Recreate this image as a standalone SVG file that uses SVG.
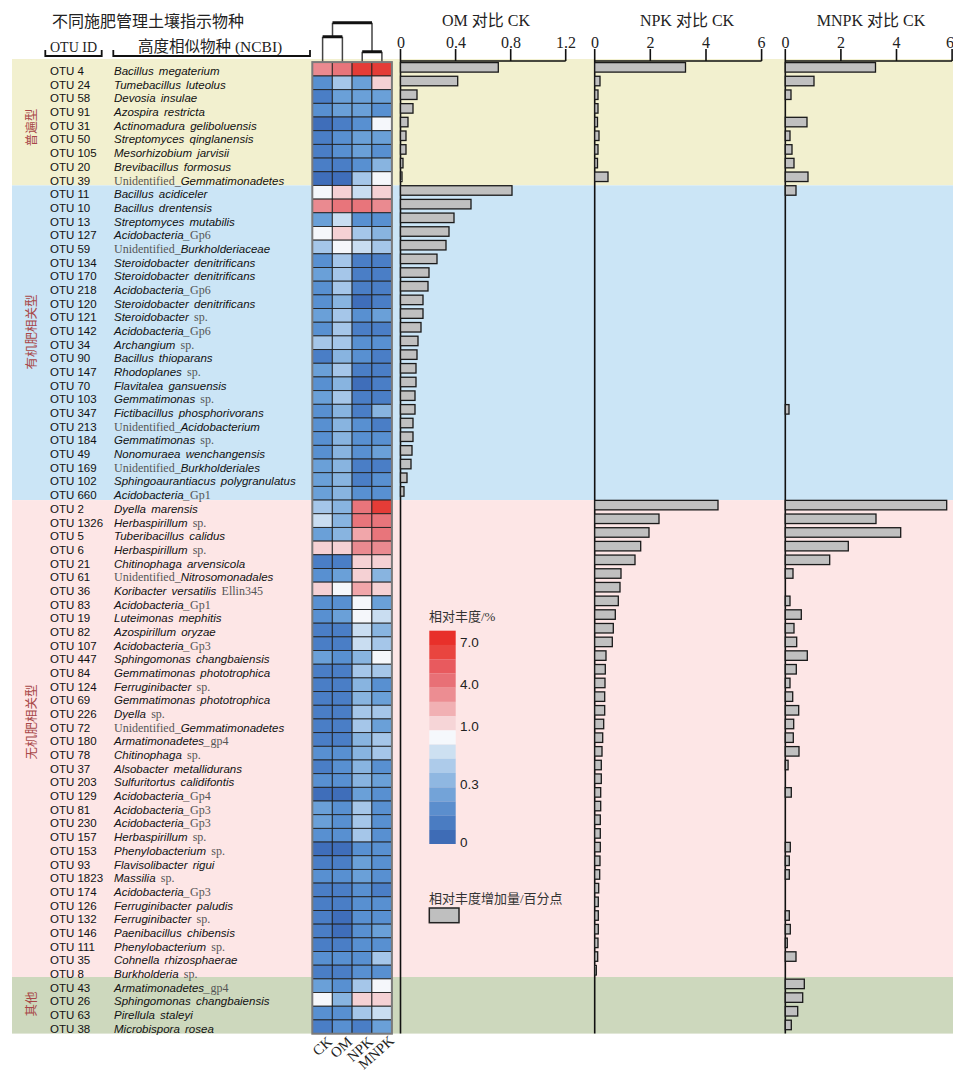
<svg xmlns="http://www.w3.org/2000/svg" width="953" height="1071" viewBox="0 0 953 1071">
<style>
.id{font-family:"Liberation Sans","Noto Sans",sans-serif;font-size:11.5px;fill:#111}
.sp{font-family:"Liberation Sans","Noto Sans",sans-serif;font-size:11.5px;font-style:italic;fill:#111;word-spacing:2px}
.sr{font-family:"Liberation Serif",serif;font-style:normal;fill:#555;font-size:12px;word-spacing:0}
.c{width:19.8px;height:13.68px;stroke:#222;stroke-width:0.9}
.b{y:0.3px;height:9.5px;fill:#c0c0c0;stroke:#1a1a1a;stroke-width:1.3}
.R3{fill:#e43c37}.R2{fill:#e8757b}.R1{fill:#ea8a90}.R0{fill:#f1a6aa}.P{fill:#f5d1d4}.W{fill:#f5f7fb}
.L1{fill:#c9ddf1}.L2{fill:#a5c6e9}.L3{fill:#88b4e0}.M{fill:#6aa0d8}.D1{fill:#5890d1}.D2{fill:#4a7ec6}.D3{fill:#3f6eba}
.hd{font-family:"Liberation Serif","Noto Sans CJK SC",serif;fill:#222}
.tk{font-family:"Liberation Serif",serif;font-size:16px;fill:#222;text-anchor:middle}
.ax{stroke:#111;stroke-width:1.6;fill:none}
.grp{font-family:"Noto Sans CJK SC",sans-serif;font-size:12.5px;fill:#a84848;text-anchor:middle}
.lg{font-family:"Liberation Sans",sans-serif;font-size:13.5px;fill:#222}
.lc{font-family:"Liberation Serif","Noto Sans CJK SC",serif;font-size:13px;fill:#333}
.col{font-family:"Liberation Serif",serif;font-size:14.5px;fill:#222;text-anchor:end}
</style>

<g id="bands">
<rect x="12" y="59" width="941" height="126.4" fill="#f2f0cf"/>
<rect x="12" y="185.4" width="941" height="314.7" fill="#cbe5f6"/>
<rect x="12" y="500.1" width="941" height="476.9" fill="#fde6e6"/>
<rect x="12" y="977" width="941" height="56.6" fill="#cdd8bd"/>
</g>

<g id="group-labels">
<text class="grp" transform="translate(36 127.5) rotate(-90)">普遍型</text>
<text class="grp" transform="translate(36 332) rotate(-90)">有机肥相关型</text>
<text class="grp" transform="translate(36 722) rotate(-90)">无机肥相关型</text>
<text class="grp" transform="translate(36 1004) rotate(-90)">其他</text>
</g>

<g id="header">
<text class="hd" x="52" y="27" font-size="16">不同施肥管理土壤指示物种</text>
<text class="hd" x="50" y="52" font-size="14">OTU ID</text>
<path d="M45.3 50V56H101.7V50" fill="none" stroke="#111" stroke-width="1.8"/>
<text class="hd" x="138" y="52" font-size="15.5">高度相似物种 (NCBI)</text>
<path d="M113.3 50V56H310V50" fill="none" stroke="#111" stroke-width="1.8"/>
</g>

<g id="dendrogram" fill="none" stroke="#111">
<path d="M322.6 36.7V62M342.4 36.7V62M362.2 51.7V62M381.9 51.7V62M332.5 22.7V36.7M372 22.7V51.7" stroke-width="1.5" stroke="#444"/>
<path d="M322.6 36.7H342.4M362.2 51.7H381.9M332.5 22.7H372" stroke-width="3"/>
</g>

<g id="axes">
<text class="hd" x="486" y="26" font-size="16" text-anchor="middle">OM 对比 CK</text>
<text class="hd" x="687" y="26" font-size="16" text-anchor="middle">NPK 对比 CK</text>
<text class="hd" x="871" y="26" font-size="16" text-anchor="middle">MNPK 对比 CK</text>
<text class="tk" x="401" y="48">0</text><text class="tk" x="456" y="48">0.4</text><text class="tk" x="511" y="48">0.8</text><text class="tk" x="566" y="48">1.2</text>
<text class="tk" x="595" y="48">0</text><text class="tk" x="650.5" y="48">2</text><text class="tk" x="706" y="48">4</text><text class="tk" x="761.6" y="48">6</text>
<text class="tk" x="785.5" y="48">0</text><text class="tk" x="841" y="48">2</text><text class="tk" x="896.5" y="48">4</text><text class="tk" x="950" y="48">6</text>
<path class="ax" d="M400.5 49V1033.6M400.5 61H565.7M455.6 49V61M510.7 49V61M565.7 49V61"/>
<path class="ax" d="M594.7 49V1033.6M594.7 61H761.6M650.3 49V61M706 49V61M761.6 49V61"/>
<path class="ax" d="M785.3 49V1033.6M785.3 61H952.1M840.9 49V61M896.5 49V61M952.1 49V61"/>
</g>

<g id="rows">
<g id="otu4" transform="translate(0 62.3)"><text class="id" x="50" y="12.8">OTU 4</text><text class="sp" x="114" y="12.8">Bacillus megaterium</text><rect class="c R1" x="312.5"/><rect class="c R2" x="332.3"/><rect class="c R3" x="352.1"/><rect class="c R3" x="371.9"/><rect class="b" x="400.5" width="97.8"/><rect class="b" x="594.7" width="90.8"/><rect class="b" x="785.3" width="90.2"/></g>
<g id="otu24" transform="translate(0 75.98)"><text class="id" x="50" y="12.8">OTU 24</text><text class="sp" x="114" y="12.8">Tumebacillus luteolus</text><rect class="c D1" x="312.5"/><rect class="c L2" x="332.3"/><rect class="c M" x="352.1"/><rect class="c P" x="371.9"/><rect class="b" x="400.5" width="57.2"/><rect class="b" x="594.7" width="5.3"/><rect class="b" x="785.3" width="28.7"/></g>
<g id="otu58" transform="translate(0 89.66)"><text class="id" x="50" y="12.8">OTU 58</text><text class="sp" x="114" y="12.8">Devosia insulae</text><rect class="c D2" x="312.5"/><rect class="c M" x="332.3"/><rect class="c M" x="352.1"/><rect class="c M" x="371.9"/><rect class="b" x="400.5" width="16.5"/><rect class="b" x="594.7" width="3.3"/><rect class="b" x="785.3" width="5.7"/></g>
<g id="otu91" transform="translate(0 103.34)"><text class="id" x="50" y="12.8">OTU 91</text><text class="sp" x="114" y="12.8">Azospira restricta</text><rect class="c D1" x="312.5"/><rect class="c M" x="332.3"/><rect class="c M" x="352.1"/><rect class="c D1" x="371.9"/><rect class="b" x="400.5" width="12.5"/><rect class="b" x="594.7" width="3.3"/></g>
<g id="otu31" transform="translate(0 117.02)"><text class="id" x="50" y="12.8">OTU 31</text><text class="sp" x="114" y="12.8">Actinomadura geliboluensis</text><rect class="c D3" x="312.5"/><rect class="c D2" x="332.3"/><rect class="c D1" x="352.1"/><rect class="c W" x="371.9"/><rect class="b" x="400.5" width="7.5"/><rect class="b" x="594.7" width="2.8"/><rect class="b" x="785.3" width="21.7"/></g>
<g id="otu50" transform="translate(0 130.7)"><text class="id" x="50" y="12.8">OTU 50</text><text class="sp" x="114" y="12.8">Streptomyces qinglanensis</text><rect class="c D2" x="312.5"/><rect class="c D1" x="332.3"/><rect class="c M" x="352.1"/><rect class="c M" x="371.9"/><rect class="b" x="400.5" width="5.5"/><rect class="b" x="594.7" width="4.3"/><rect class="b" x="785.3" width="4.7"/></g>
<g id="otu105" transform="translate(0 144.38)"><text class="id" x="50" y="12.8">OTU 105</text><text class="sp" x="114" y="12.8">Mesorhizobium jarvisii</text><rect class="c D2" x="312.5"/><rect class="c D1" x="332.3"/><rect class="c M" x="352.1"/><rect class="c D1" x="371.9"/><rect class="b" x="400.5" width="5.5"/><rect class="b" x="594.7" width="3.3"/><rect class="b" x="785.3" width="6.7"/></g>
<g id="otu20" transform="translate(0 158.06)"><text class="id" x="50" y="12.8">OTU 20</text><text class="sp" x="114" y="12.8">Brevibacillus formosus</text><rect class="c D2" x="312.5"/><rect class="c D2" x="332.3"/><rect class="c D1" x="352.1"/><rect class="c L3" x="371.9"/><rect class="b" x="400.5" width="2.5"/><rect class="b" x="594.7" width="2.8"/><rect class="b" x="785.3" width="8.7"/></g>
<g id="otu39" transform="translate(0 171.74)"><text class="id" x="50" y="12.8">OTU 39</text><text class="sp" x="114" y="12.8"><tspan class="sr">Unidentified_</tspan>Gemmatimonadetes</text><rect class="c D3" x="312.5"/><rect class="c D3" x="332.3"/><rect class="c L2" x="352.1"/><rect class="c W" x="371.9"/><rect class="b" x="400.5" width="1.5"/><rect class="b" x="594.7" width="13.3"/><rect class="b" x="785.3" width="22.7"/></g>

<g id="otu11" transform="translate(0 185.42)"><text class="id" x="50" y="12.8">OTU 11</text><text class="sp" x="114" y="12.8">Bacillus acidiceler</text><rect class="c W" x="312.5"/><rect class="c P" x="332.3"/><rect class="c L1" x="352.1"/><rect class="c P" x="371.9"/><rect class="b" x="400.5" width="111.5"/><rect class="b" x="785.3" width="10.7"/></g>
<g id="otu10" transform="translate(0 199.1)"><text class="id" x="50" y="12.8">OTU 10</text><text class="sp" x="114" y="12.8">Bacillus drentensis</text><rect class="c R1" x="312.5"/><rect class="c R2" x="332.3"/><rect class="c R2" x="352.1"/><rect class="c R1" x="371.9"/><rect class="b" x="400.5" width="70.5"/></g>
<g id="otu13" transform="translate(0 212.78)"><text class="id" x="50" y="12.8">OTU 13</text><text class="sp" x="114" y="12.8">Streptomyces mutabilis</text><rect class="c M" x="312.5"/><rect class="c L1" x="332.3"/><rect class="c D1" x="352.1"/><rect class="c D1" x="371.9"/><rect class="b" x="400.5" width="53.5"/></g>
<g id="otu127" transform="translate(0 226.46)"><text class="id" x="50" y="12.8">OTU 127</text><text class="sp" x="114" y="12.8">Acidobacteria_<tspan class="sr">Gp6</tspan></text><rect class="c W" x="312.5"/><rect class="c P" x="332.3"/><rect class="c L2" x="352.1"/><rect class="c L3" x="371.9"/><rect class="b" x="400.5" width="48.5"/></g>
<g id="otu59" transform="translate(0 240.14)"><text class="id" x="50" y="12.8">OTU 59</text><text class="sp" x="114" y="12.8"><tspan class="sr">Unidentified_</tspan>Burkholderiaceae</text><rect class="c L2" x="312.5"/><rect class="c W" x="332.3"/><rect class="c L1" x="352.1"/><rect class="c L2" x="371.9"/><rect class="b" x="400.5" width="45.5"/></g>
<g id="otu134" transform="translate(0 253.82)"><text class="id" x="50" y="12.8">OTU 134</text><text class="sp" x="114" y="12.8">Steroidobacter denitrificans</text><rect class="c D1" x="312.5"/><rect class="c L2" x="332.3"/><rect class="c D2" x="352.1"/><rect class="c D2" x="371.9"/><rect class="b" x="400.5" width="36.5"/></g>
<g id="otu170" transform="translate(0 267.5)"><text class="id" x="50" y="12.8">OTU 170</text><text class="sp" x="114" y="12.8">Steroidobacter denitrificans</text><rect class="c M" x="312.5"/><rect class="c L2" x="332.3"/><rect class="c D2" x="352.1"/><rect class="c D2" x="371.9"/><rect class="b" x="400.5" width="28.5"/></g>
<g id="otu218" transform="translate(0 281.18)"><text class="id" x="50" y="12.8">OTU 218</text><text class="sp" x="114" y="12.8">Acidobacteria_<tspan class="sr">Gp6</tspan></text><rect class="c D1" x="312.5"/><rect class="c L2" x="332.3"/><rect class="c D2" x="352.1"/><rect class="c D2" x="371.9"/><rect class="b" x="400.5" width="27.5"/></g>
<g id="otu120" transform="translate(0 294.86)"><text class="id" x="50" y="12.8">OTU 120</text><text class="sp" x="114" y="12.8">Steroidobacter denitrificans</text><rect class="c D1" x="312.5"/><rect class="c L3" x="332.3"/><rect class="c D3" x="352.1"/><rect class="c D2" x="371.9"/><rect class="b" x="400.5" width="22.5"/></g>
<g id="otu121" transform="translate(0 308.54)"><text class="id" x="50" y="12.8">OTU 121</text><text class="sp" x="114" y="12.8">Steroidobacter <tspan class="sr">sp.</tspan></text><rect class="c M" x="312.5"/><rect class="c L2" x="332.3"/><rect class="c D1" x="352.1"/><rect class="c M" x="371.9"/><rect class="b" x="400.5" width="22.5"/></g>
<g id="otu142" transform="translate(0 322.22)"><text class="id" x="50" y="12.8">OTU 142</text><text class="sp" x="114" y="12.8">Acidobacteria_<tspan class="sr">Gp6</tspan></text><rect class="c D1" x="312.5"/><rect class="c L2" x="332.3"/><rect class="c D2" x="352.1"/><rect class="c D2" x="371.9"/><rect class="b" x="400.5" width="20.5"/></g>
<g id="otu34" transform="translate(0 335.9)"><text class="id" x="50" y="12.8">OTU 34</text><text class="sp" x="114" y="12.8">Archangium <tspan class="sr">sp.</tspan></text><rect class="c L2" x="312.5"/><rect class="c L2" x="332.3"/><rect class="c D1" x="352.1"/><rect class="c D1" x="371.9"/><rect class="b" x="400.5" width="17.5"/></g>
<g id="otu90" transform="translate(0 349.58)"><text class="id" x="50" y="12.8">OTU 90</text><text class="sp" x="114" y="12.8">Bacillus thioparans</text><rect class="c D2" x="312.5"/><rect class="c L3" x="332.3"/><rect class="c D1" x="352.1"/><rect class="c D2" x="371.9"/><rect class="b" x="400.5" width="16.5"/></g>
<g id="otu147" transform="translate(0 363.26)"><text class="id" x="50" y="12.8">OTU 147</text><text class="sp" x="114" y="12.8">Rhodoplanes <tspan class="sr">sp.</tspan></text><rect class="c M" x="312.5"/><rect class="c L2" x="332.3"/><rect class="c D2" x="352.1"/><rect class="c D2" x="371.9"/><rect class="b" x="400.5" width="15.5"/></g>
<g id="otu70" transform="translate(0 376.94)"><text class="id" x="50" y="12.8">OTU 70</text><text class="sp" x="114" y="12.8">Flavitalea gansuensis</text><rect class="c D1" x="312.5"/><rect class="c L3" x="332.3"/><rect class="c D3" x="352.1"/><rect class="c D2" x="371.9"/><rect class="b" x="400.5" width="15.5"/></g>
<g id="otu103" transform="translate(0 390.62)"><text class="id" x="50" y="12.8">OTU 103</text><text class="sp" x="114" y="12.8">Gemmatimonas <tspan class="sr">sp.</tspan></text><rect class="c M" x="312.5"/><rect class="c L2" x="332.3"/><rect class="c D2" x="352.1"/><rect class="c D2" x="371.9"/><rect class="b" x="400.5" width="14.5"/></g>
<g id="otu347" transform="translate(0 404.3)"><text class="id" x="50" y="12.8">OTU 347</text><text class="sp" x="114" y="12.8">Fictibacillus phosphorivorans</text><rect class="c D1" x="312.5"/><rect class="c L3" x="332.3"/><rect class="c D2" x="352.1"/><rect class="c L3" x="371.9"/><rect class="b" x="400.5" width="14.5"/><rect class="b" x="785.3" width="3.7"/></g>
<g id="otu213" transform="translate(0 417.98)"><text class="id" x="50" y="12.8">OTU 213</text><text class="sp" x="114" y="12.8"><tspan class="sr">Unidentified_</tspan>Acidobacterium</text><rect class="c D1" x="312.5"/><rect class="c L3" x="332.3"/><rect class="c D1" x="352.1"/><rect class="c D2" x="371.9"/><rect class="b" x="400.5" width="12.5"/></g>
<g id="otu184" transform="translate(0 431.66)"><text class="id" x="50" y="12.8">OTU 184</text><text class="sp" x="114" y="12.8">Gemmatimonas <tspan class="sr">sp.</tspan></text><rect class="c D1" x="312.5"/><rect class="c L3" x="332.3"/><rect class="c D1" x="352.1"/><rect class="c D1" x="371.9"/><rect class="b" x="400.5" width="12.5"/></g>
<g id="otu49" transform="translate(0 445.34)"><text class="id" x="50" y="12.8">OTU 49</text><text class="sp" x="114" y="12.8">Nonomuraea wenchangensis</text><rect class="c D1" x="312.5"/><rect class="c L3" x="332.3"/><rect class="c D1" x="352.1"/><rect class="c M" x="371.9"/><rect class="b" x="400.5" width="11.5"/></g>
<g id="otu169" transform="translate(0 459.02)"><text class="id" x="50" y="12.8">OTU 169</text><text class="sp" x="114" y="12.8"><tspan class="sr">Unidentified_</tspan>Burkholderiales</text><rect class="c M" x="312.5"/><rect class="c L3" x="332.3"/><rect class="c D2" x="352.1"/><rect class="c D2" x="371.9"/><rect class="b" x="400.5" width="10.5"/></g>
<g id="otu102" transform="translate(0 472.7)"><text class="id" x="50" y="12.8">OTU 102</text><text class="sp" x="114" y="12.8">Sphingoaurantiacus polygranulatus</text><rect class="c M" x="312.5"/><rect class="c L3" x="332.3"/><rect class="c D2" x="352.1"/><rect class="c D1" x="371.9"/><rect class="b" x="400.5" width="6.5"/></g>
<g id="otu660" transform="translate(0 486.38)"><text class="id" x="50" y="12.8">OTU 660</text><text class="sp" x="114" y="12.8">Acidobacteria_<tspan class="sr">Gp1</tspan></text><rect class="c M" x="312.5"/><rect class="c L3" x="332.3"/><rect class="c D1" x="352.1"/><rect class="c D1" x="371.9"/><rect class="b" x="400.5" width="3.5"/></g>

<g id="otu2" transform="translate(0 500.06)"><text class="id" x="50" y="12.8">OTU 2</text><text class="sp" x="114" y="12.8">Dyella marensis</text><rect class="c L2" x="312.5"/><rect class="c L3" x="332.3"/><rect class="c R2" x="352.1"/><rect class="c R3" x="371.9"/><rect class="b" x="594.7" width="123.3"/><rect class="b" x="785.3" width="161.4"/></g>
<g id="otu1326" transform="translate(0 513.74)"><text class="id" x="50" y="12.8">OTU 1326</text><text class="sp" x="114" y="12.8">Herbaspirillum <tspan class="sr">sp.</tspan></text><rect class="c L1" x="312.5"/><rect class="c L3" x="332.3"/><rect class="c R2" x="352.1"/><rect class="c R2" x="371.9"/><rect class="b" x="594.7" width="64.3"/><rect class="b" x="785.3" width="90.7"/></g>
<g id="otu5" transform="translate(0 527.42)"><text class="id" x="50" y="12.8">OTU 5</text><text class="sp" x="114" y="12.8">Tuberibacillus calidus</text><rect class="c M" x="312.5"/><rect class="c L3" x="332.3"/><rect class="c R0" x="352.1"/><rect class="c R2" x="371.9"/><rect class="b" x="594.7" width="54.3"/><rect class="b" x="785.3" width="115.4"/></g>
<g id="otu6" transform="translate(0 541.1)"><text class="id" x="50" y="12.8">OTU 6</text><text class="sp" x="114" y="12.8">Herbaspirillum <tspan class="sr">sp.</tspan></text><rect class="c P" x="312.5"/><rect class="c P" x="332.3"/><rect class="c R1" x="352.1"/><rect class="c R1" x="371.9"/><rect class="b" x="594.7" width="46"/><rect class="b" x="785.3" width="63"/></g>
<g id="otu21" transform="translate(0 554.78)"><text class="id" x="50" y="12.8">OTU 21</text><text class="sp" x="114" y="12.8">Chitinophaga arvensicola</text><rect class="c D2" x="312.5"/><rect class="c D2" x="332.3"/><rect class="c P" x="352.1"/><rect class="c P" x="371.9"/><rect class="b" x="594.7" width="40.3"/><rect class="b" x="785.3" width="44.4"/></g>
<g id="otu61" transform="translate(0 568.46)"><text class="id" x="50" y="12.8">OTU 61</text><text class="sp" x="114" y="12.8"><tspan class="sr">Unidentified_</tspan>Nitrosomonadales</text><rect class="c D1" x="312.5"/><rect class="c M" x="332.3"/><rect class="c P" x="352.1"/><rect class="c L3" x="371.9"/><rect class="b" x="594.7" width="26.3"/><rect class="b" x="785.3" width="7.7"/></g>
<g id="otu36" transform="translate(0 582.14)"><text class="id" x="50" y="12.8">OTU 36</text><text class="sp" x="114" y="12.8">Koribacter versatilis <tspan class="sr">Ellin345</tspan></text><rect class="c P" x="312.5"/><rect class="c W" x="332.3"/><rect class="c R0" x="352.1"/><rect class="c P" x="371.9"/><rect class="b" x="594.7" width="25.3"/></g>
<g id="otu83" transform="translate(0 595.82)"><text class="id" x="50" y="12.8">OTU 83</text><text class="sp" x="114" y="12.8">Acidobacteria_<tspan class="sr">Gp1</tspan></text><rect class="c D1" x="312.5"/><rect class="c D1" x="332.3"/><rect class="c W" x="352.1"/><rect class="c M" x="371.9"/><rect class="b" x="594.7" width="23.6"/><rect class="b" x="785.3" width="4.7"/></g>
<g id="otu19" transform="translate(0 609.5)"><text class="id" x="50" y="12.8">OTU 19</text><text class="sp" x="114" y="12.8">Luteimonas mephitis</text><rect class="c D1" x="312.5"/><rect class="c M" x="332.3"/><rect class="c W" x="352.1"/><rect class="c L1" x="371.9"/><rect class="b" x="594.7" width="20.6"/><rect class="b" x="785.3" width="16"/></g>
<g id="otu82" transform="translate(0 623.18)"><text class="id" x="50" y="12.8">OTU 82</text><text class="sp" x="114" y="12.8">Azospirillum oryzae</text><rect class="c D2" x="312.5"/><rect class="c D2" x="332.3"/><rect class="c L1" x="352.1"/><rect class="c L3" x="371.9"/><rect class="b" x="594.7" width="18.6"/><rect class="b" x="785.3" width="8.7"/></g>
<g id="otu107" transform="translate(0 636.86)"><text class="id" x="50" y="12.8">OTU 107</text><text class="sp" x="114" y="12.8">Acidobacteria_<tspan class="sr">Gp3</tspan></text><rect class="c D2" x="312.5"/><rect class="c D2" x="332.3"/><rect class="c L1" x="352.1"/><rect class="c L2" x="371.9"/><rect class="b" x="594.7" width="17.6"/><rect class="b" x="785.3" width="11.4"/></g>
<g id="otu447" transform="translate(0 650.54)"><text class="id" x="50" y="12.8">OTU 447</text><text class="sp" x="114" y="12.8">Sphingomonas changbaiensis</text><rect class="c M" x="312.5"/><rect class="c D1" x="332.3"/><rect class="c L3" x="352.1"/><rect class="c W" x="371.9"/><rect class="b" x="594.7" width="11.3"/><rect class="b" x="785.3" width="22"/></g>
<g id="otu84" transform="translate(0 664.22)"><text class="id" x="50" y="12.8">OTU 84</text><text class="sp" x="114" y="12.8">Gemmatimonas phototrophica</text><rect class="c D2" x="312.5"/><rect class="c D2" x="332.3"/><rect class="c L2" x="352.1"/><rect class="c L2" x="371.9"/><rect class="b" x="594.7" width="10.6"/><rect class="b" x="785.3" width="11"/></g>
<g id="otu124" transform="translate(0 677.9)"><text class="id" x="50" y="12.8">OTU 124</text><text class="sp" x="114" y="12.8">Ferruginibacter <tspan class="sr">sp.</tspan></text><rect class="c D2" x="312.5"/><rect class="c D2" x="332.3"/><rect class="c L3" x="352.1"/><rect class="c D1" x="371.9"/><rect class="b" x="594.7" width="10.3"/><rect class="b" x="785.3" width="4.7"/></g>
<g id="otu69" transform="translate(0 691.58)"><text class="id" x="50" y="12.8">OTU 69</text><text class="sp" x="114" y="12.8">Gemmatimonas phototrophica</text><rect class="c D2" x="312.5"/><rect class="c D2" x="332.3"/><rect class="c L3" x="352.1"/><rect class="c M" x="371.9"/><rect class="b" x="594.7" width="10"/><rect class="b" x="785.3" width="7.4"/></g>
<g id="otu226" transform="translate(0 705.26)"><text class="id" x="50" y="12.8">OTU 226</text><text class="sp" x="114" y="12.8">Dyella <tspan class="sr">sp.</tspan></text><rect class="c D2" x="312.5"/><rect class="c D2" x="332.3"/><rect class="c L2" x="352.1"/><rect class="c L2" x="371.9"/><rect class="b" x="594.7" width="10"/><rect class="b" x="785.3" width="13.4"/></g>
<g id="otu72" transform="translate(0 718.94)"><text class="id" x="50" y="12.8">OTU 72</text><text class="sp" x="114" y="12.8"><tspan class="sr">Unidentified_</tspan>Gemmatimonadetes</text><rect class="c D2" x="312.5"/><rect class="c D2" x="332.3"/><rect class="c L2" x="352.1"/><rect class="c M" x="371.9"/><rect class="b" x="594.7" width="9"/><rect class="b" x="785.3" width="8.4"/></g>
<g id="otu180" transform="translate(0 732.62)"><text class="id" x="50" y="12.8">OTU 180</text><text class="sp" x="114" y="12.8">Armatimonadetes_<tspan class="sr">gp4</tspan></text><rect class="c D2" x="312.5"/><rect class="c D2" x="332.3"/><rect class="c L3" x="352.1"/><rect class="c L2" x="371.9"/><rect class="b" x="594.7" width="8"/><rect class="b" x="785.3" width="8"/></g>
<g id="otu78" transform="translate(0 746.3)"><text class="id" x="50" y="12.8">OTU 78</text><text class="sp" x="114" y="12.8">Chitinophaga <tspan class="sr">sp.</tspan></text><rect class="c D1" x="312.5"/><rect class="c D1" x="332.3"/><rect class="c L3" x="352.1"/><rect class="c L2" x="371.9"/><rect class="b" x="594.7" width="7.3"/><rect class="b" x="785.3" width="13.7"/></g>
<g id="otu37" transform="translate(0 759.98)"><text class="id" x="50" y="12.8">OTU 37</text><text class="sp" x="114" y="12.8">Alsobacter metallidurans</text><rect class="c D2" x="312.5"/><rect class="c D1" x="332.3"/><rect class="c L3" x="352.1"/><rect class="c D1" x="371.9"/><rect class="b" x="594.7" width="6.6"/><rect class="b" x="785.3" width="2.8"/></g>
<g id="otu203" transform="translate(0 773.66)"><text class="id" x="50" y="12.8">OTU 203</text><text class="sp" x="114" y="12.8">Sulfuritortus calidifontis</text><rect class="c D1" x="312.5"/><rect class="c D1" x="332.3"/><rect class="c L3" x="352.1"/><rect class="c M" x="371.9"/><rect class="b" x="594.7" width="6.6"/></g>
<g id="otu129" transform="translate(0 787.34)"><text class="id" x="50" y="12.8">OTU 129</text><text class="sp" x="114" y="12.8">Acidobacteria_<tspan class="sr">Gp4</tspan></text><rect class="c D3" x="312.5"/><rect class="c D3" x="332.3"/><rect class="c M" x="352.1"/><rect class="c D1" x="371.9"/><rect class="b" x="594.7" width="6"/><rect class="b" x="785.3" width="6"/></g>
<g id="otu81" transform="translate(0 801.02)"><text class="id" x="50" y="12.8">OTU 81</text><text class="sp" x="114" y="12.8">Acidobacteria_<tspan class="sr">Gp3</tspan></text><rect class="c M" x="312.5"/><rect class="c D1" x="332.3"/><rect class="c L2" x="352.1"/><rect class="c D1" x="371.9"/><rect class="b" x="594.7" width="6"/></g>
<g id="otu230" transform="translate(0 814.7)"><text class="id" x="50" y="12.8">OTU 230</text><text class="sp" x="114" y="12.8">Acidobacteria_<tspan class="sr">Gp3</tspan></text><rect class="c M" x="312.5"/><rect class="c D1" x="332.3"/><rect class="c L2" x="352.1"/><rect class="c D1" x="371.9"/><rect class="b" x="594.7" width="5.6"/></g>
<g id="otu157" transform="translate(0 828.38)"><text class="id" x="50" y="12.8">OTU 157</text><text class="sp" x="114" y="12.8">Herbaspirillum <tspan class="sr">sp.</tspan></text><rect class="c D1" x="312.5"/><rect class="c D1" x="332.3"/><rect class="c L2" x="352.1"/><rect class="c D1" x="371.9"/><rect class="b" x="594.7" width="5.6"/></g>
<g id="otu153" transform="translate(0 842.06)"><text class="id" x="50" y="12.8">OTU 153</text><text class="sp" x="114" y="12.8">Phenylobacterium <tspan class="sr">sp.</tspan></text><rect class="c D3" x="312.5"/><rect class="c D3" x="332.3"/><rect class="c D1" x="352.1"/><rect class="c D1" x="371.9"/><rect class="b" x="594.7" width="5.6"/><rect class="b" x="785.3" width="5"/></g>
<g id="otu93" transform="translate(0 855.74)"><text class="id" x="50" y="12.8">OTU 93</text><text class="sp" x="114" y="12.8">Flavisolibacter rigui</text><rect class="c D2" x="312.5"/><rect class="c D2" x="332.3"/><rect class="c M" x="352.1"/><rect class="c D1" x="371.9"/><rect class="b" x="594.7" width="5.3"/><rect class="b" x="785.3" width="4"/></g>
<g id="otu1823" transform="translate(0 869.42)"><text class="id" x="50" y="12.8">OTU 1823</text><text class="sp" x="114" y="12.8">Massilia <tspan class="sr">sp.</tspan></text><rect class="c D1" x="312.5"/><rect class="c D1" x="332.3"/><rect class="c M" x="352.1"/><rect class="c D1" x="371.9"/><rect class="b" x="594.7" width="5"/><rect class="b" x="785.3" width="4"/></g>
<g id="otu174" transform="translate(0 883.1)"><text class="id" x="50" y="12.8">OTU 174</text><text class="sp" x="114" y="12.8">Acidobacteria_<tspan class="sr">Gp3</tspan></text><rect class="c D2" x="312.5"/><rect class="c D2" x="332.3"/><rect class="c D1" x="352.1"/><rect class="c D2" x="371.9"/><rect class="b" x="594.7" width="4"/></g>
<g id="otu126" transform="translate(0 896.78)"><text class="id" x="50" y="12.8">OTU 126</text><text class="sp" x="114" y="12.8">Ferruginibacter paludis</text><rect class="c D2" x="312.5"/><rect class="c D2" x="332.3"/><rect class="c D1" x="352.1"/><rect class="c D1" x="371.9"/><rect class="b" x="594.7" width="3.6"/></g>
<g id="otu132" transform="translate(0 910.46)"><text class="id" x="50" y="12.8">OTU 132</text><text class="sp" x="114" y="12.8">Ferruginibacter <tspan class="sr">sp.</tspan></text><rect class="c D2" x="312.5"/><rect class="c D3" x="332.3"/><rect class="c D1" x="352.1"/><rect class="c D1" x="371.9"/><rect class="b" x="594.7" width="3.6"/><rect class="b" x="785.3" width="4"/></g>
<g id="otu146" transform="translate(0 924.14)"><text class="id" x="50" y="12.8">OTU 146</text><text class="sp" x="114" y="12.8">Paenibacillus chibensis</text><rect class="c D2" x="312.5"/><rect class="c D3" x="332.3"/><rect class="c D1" x="352.1"/><rect class="c M" x="371.9"/><rect class="b" x="594.7" width="3.6"/><rect class="b" x="785.3" width="5"/></g>
<g id="otu111" transform="translate(0 937.82)"><text class="id" x="50" y="12.8">OTU 111</text><text class="sp" x="114" y="12.8">Phenylobacterium <tspan class="sr">sp.</tspan></text><rect class="c D2" x="312.5"/><rect class="c D2" x="332.3"/><rect class="c D1" x="352.1"/><rect class="c D1" x="371.9"/><rect class="b" x="594.7" width="3.3"/><rect class="b" x="785.3" width="2"/></g>
<g id="otu35" transform="translate(0 951.5)"><text class="id" x="50" y="12.8">OTU 35</text><text class="sp" x="114" y="12.8">Cohnella rhizosphaerae</text><rect class="c D1" x="312.5"/><rect class="c D1" x="332.3"/><rect class="c D1" x="352.1"/><rect class="c L2" x="371.9"/><rect class="b" x="594.7" width="3"/><rect class="b" x="785.3" width="10.7"/></g>
<g id="otu8" transform="translate(0 965.18)"><text class="id" x="50" y="12.8">OTU 8</text><text class="sp" x="114" y="12.8">Burkholderia <tspan class="sr">sp.</tspan></text><rect class="c D2" x="312.5"/><rect class="c D2" x="332.3"/><rect class="c D1" x="352.1"/><rect class="c D1" x="371.9"/><rect class="b" x="594.7" width="1.6"/></g>

<g id="otu43" transform="translate(0 978.86)"><text class="id" x="50" y="12.8">OTU 43</text><text class="sp" x="114" y="12.8">Armatimonadetes_<tspan class="sr">gp4</tspan></text><rect class="c M" x="312.5"/><rect class="c D1" x="332.3"/><rect class="c L2" x="352.1"/><rect class="c W" x="371.9"/><rect class="b" x="785.3" width="19"/></g>
<g id="otu26" transform="translate(0 992.54)"><text class="id" x="50" y="12.8">OTU 26</text><text class="sp" x="114" y="12.8">Sphingomonas changbaiensis</text><rect class="c W" x="312.5"/><rect class="c L3" x="332.3"/><rect class="c P" x="352.1"/><rect class="c P" x="371.9"/><rect class="b" x="785.3" width="17.4"/></g>
<g id="otu63" transform="translate(0 1006.22)"><text class="id" x="50" y="12.8">OTU 63</text><text class="sp" x="114" y="12.8">Pirellula staleyi</text><rect class="c D1" x="312.5"/><rect class="c D1" x="332.3"/><rect class="c L2" x="352.1"/><rect class="c L1" x="371.9"/><rect class="b" x="785.3" width="12.4"/></g>
<g id="otu38" transform="translate(0 1019.9)"><text class="id" x="50" y="12.8">OTU 38</text><text class="sp" x="114" y="12.8">Microbispora rosea</text><rect class="c D2" x="312.5"/><rect class="c D1" x="332.3"/><rect class="c D2" x="352.1"/><rect class="c M" x="371.9"/><rect class="b" x="785.3" width="6"/></g>
</g>

<rect id="heatmap-frame" x="312.3" y="62.1" width="79.6" height="971.6" fill="none" stroke="#7a7a7a" stroke-width="2"/>

<g id="column-labels">
<text class="col" transform="translate(333 1043) rotate(-42)">CK</text>
<text class="col" transform="translate(353 1043) rotate(-42)">OM</text>
<text class="col" transform="translate(374 1043) rotate(-42)">NPK</text>
<text class="col" transform="translate(395 1042) rotate(-42)">MNPK</text>
</g>

<g id="legend">
<text class="lc" x="429" y="621">相对丰度/%</text>
<rect x="429.3" y="630.7" width="26.4" height="14.3" fill="#e8302a"/>
<rect x="429.3" y="644.9" width="26.4" height="14.3" fill="#e9453f"/>
<rect x="429.3" y="659.2" width="26.4" height="14.3" fill="#e85a5e"/>
<rect x="429.3" y="673.4" width="26.4" height="14.3" fill="#e87076"/>
<rect x="429.3" y="687.6" width="26.4" height="14.3" fill="#ec8d92"/>
<rect x="429.3" y="701.9" width="26.4" height="14.3" fill="#f1b0b3"/>
<rect x="429.3" y="716.1" width="26.4" height="14.3" fill="#f6d5d7"/>
<rect x="429.3" y="730.3" width="26.4" height="14.3" fill="#f5f8fc"/>
<rect x="429.3" y="744.6" width="26.4" height="14.3" fill="#cde0f1"/>
<rect x="429.3" y="758.8" width="26.4" height="14.3" fill="#adcbea"/>
<rect x="429.3" y="773" width="26.4" height="14.3" fill="#8fb7e1"/>
<rect x="429.3" y="787.3" width="26.4" height="14.3" fill="#73a3d8"/>
<rect x="429.3" y="801.5" width="26.4" height="14.3" fill="#5b8ecd"/>
<rect x="429.3" y="815.7" width="26.4" height="14.3" fill="#4a7cc2"/>
<rect x="429.3" y="830" width="26.4" height="14" fill="#3e6cb6"/>
<text class="lg" x="460" y="646.7">7.0</text>
<text class="lg" x="460" y="688.7">4.0</text>
<text class="lg" x="460" y="731">1.0</text>
<text class="lg" x="460" y="789">0.3</text>
<text class="lg" x="460" y="846.7">0</text>
<text class="lc" x="429" y="903">相对丰度增加量/百分点</text>
<rect x="429.3" y="908" width="29.7" height="14.7" fill="#bfbfbf" stroke="#222" stroke-width="1.5"/>
</g>
</svg>
